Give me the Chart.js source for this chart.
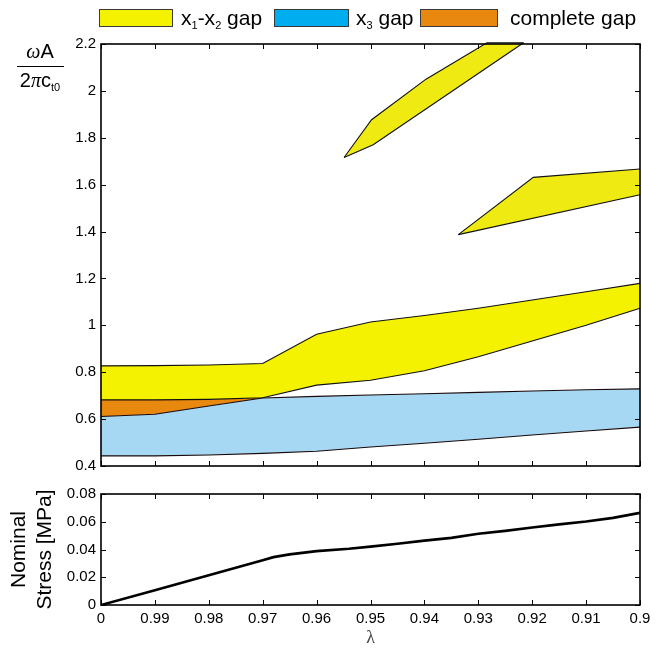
<!DOCTYPE html>
<html><head><meta charset="utf-8">
<script src="https://cdn.jsdelivr.net/npm/chart.js@4.4.1/dist/chart.umd.min.js"></script>
<style>
html,body{margin:0;padding:0;background:#fff;}
body{width:664px;height:651px;position:relative;overflow:hidden;font-family:'Liberation Sans',Arial,sans-serif;color:#000;}
#topWrap{position:absolute;left:0;top:0;width:664px;height:480px;}
#botWrap{position:absolute;left:0;top:480px;width:664px;height:171px;}
.box{position:absolute;top:9px;height:16px;border:1px solid #3a3a3a;}
.lt{position:absolute;top:7px;font-size:21px;line-height:21px;white-space:nowrap;}
.lt sub,.fr sub{font-size:11px;vertical-align:-4px;line-height:0;}
.fr{position:absolute;left:12px;width:56px;text-align:center;font-size:20px;line-height:22px;white-space:nowrap;}
</style></head>
<body>
<div id="topWrap"><canvas id="topChart"></canvas></div>
<div id="botWrap"><canvas id="botChart"></canvas></div>

<div class="box" style="left:99px;width:72px;background:#F5F200;"></div>
<div class="lt" style="left:181px;">x<sub>1</sub>-x<sub>2</sub> gap</div>
<div class="box" style="left:274px;width:73px;background:#00AEEF;"></div>
<div class="lt" style="left:356px;">x<sub>3</sub> gap</div>
<div class="box" style="left:420px;width:76px;background:#E8880F;"></div>
<div class="lt" style="left:510px;">complete gap</div>

<div class="fr" style="top:40px;"><span style="font-family:'Liberation Serif',serif;font-style:italic;">ω</span>A</div>
<div style="position:absolute;left:17px;top:66px;width:47px;border-top:1.3px solid #000;"></div>
<div class="fr" style="top:69px;">2<span style="font-family:'Liberation Serif',serif;font-style:italic;">π</span>c<sub>t0</sub></div>

<script>
// ---- data ----
const lambdaGrid   = [1.00, 0.99, 0.98, 0.97, 0.96, 0.95, 0.94, 0.93, 0.92, 0.91, 0.90];
const x12UpperMain = [0.827, 0.828, 0.831, 0.837, 0.962, 1.014, 1.042, 1.073, 1.108, 1.143, 1.179];
const x12LowerMain = [0.682, 0.682, 0.684, 0.691, 0.745, 0.766, 0.806, 0.866, 0.933, 1.000, 1.073];
const x3Upper      = [0.611, 0.621, 0.656, 0.690, 0.697, 0.703, 0.708, 0.714, 0.720, 0.725, 0.729];
const x3Lower      = [0.443, 0.443, 0.447, 0.454, 0.463, 0.481, 0.497, 0.514, 0.532, 0.549, 0.566];
const completeLambda = [1.00, 0.99, 0.98, 0.97];
const completeTop    = [0.682, 0.682, 0.684, 0.691];

const midUpperLambda = [0.9337, 0.9198, 0.90];
const midUpper       = [1.387, 1.631, 1.667];
const midLowerLambda = [0.9337, 0.90];
const midLower       = [1.387, 1.557];

const hiUpperLambda = [0.9549, 0.9498, 0.9397, 0.9284, 0.9216];
const hiUpper       = [1.716, 1.877, 2.050, 2.205, 2.205];
const hiLowerLambda = [0.9549, 0.9495, 0.9216];
const hiLower       = [1.716, 1.770, 2.205];

const stressLambda = [1.00, 0.99, 0.98, 0.97, 0.968, 0.965, 0.96, 0.954, 0.95, 0.945, 0.94, 0.935, 0.93, 0.925, 0.92, 0.915, 0.91, 0.905, 0.90];
const stressValues = [0, 0.0107, 0.0214, 0.0322, 0.0345, 0.0365, 0.0388, 0.0405, 0.0421, 0.0442, 0.0464, 0.0484, 0.0513, 0.0534, 0.0558, 0.0581, 0.0602, 0.0628, 0.0664];

const xTickValues = [1.00, 0.99, 0.98, 0.97, 0.96, 0.95, 0.94, 0.93, 0.92, 0.91, 0.90];
const xTickLabels = ['0', '0.99', '0.98', '0.97', '0.96', '0.95', '0.94', '0.93', '0.92', '0.91', '0.9'];
const yTopTickValues = [0.4, 0.6, 0.8, 1.0, 1.2, 1.4, 1.6, 1.8, 2.0, 2.2];
const yTopTickLabels = ['0.4', '0.6', '0.8', '1', '1.2', '1.4', '1.6', '1.8', '2', '2.2'];
const yBotTickValues = [0, 0.02, 0.04, 0.06, 0.08];
const yBotTickLabels = ['0', '0.02', '0.04', '0.06', '0.08'];

// ---- helpers ----
const pts = (xs, ys) => xs.map((x, i) => ({x: x, y: ys[i]}));
const FONT = "'Liberation Sans', Arial, sans-serif";
const setTicks = (vals) => (scale) => { scale.ticks = vals.map(v => ({value: v})); };
const labelFrom = (vals, labels) => (value) => {
  const i = vals.findIndex(v => Math.abs(v - value) < 1e-9);
  return i >= 0 ? labels[i] : '';
};

const boxTicks = {
  id: 'boxTicks',
  afterDraw(chart) {
    const {ctx, chartArea: a, scales: {x, y}} = chart;
    const L = 5;
    ctx.save();
    ctx.strokeStyle = '#000';
    ctx.lineWidth = 1;
    ctx.beginPath();
    x.ticks.forEach(t => {
      const p = Math.round(x.getPixelForValue(t.value)) + 0.5;
      ctx.moveTo(p, a.bottom); ctx.lineTo(p, a.bottom - L);
      ctx.moveTo(p, a.top); ctx.lineTo(p, a.top + L);
    });
    y.ticks.forEach(t => {
      const p = Math.round(y.getPixelForValue(t.value)) + 0.5;
      ctx.moveTo(a.left, p); ctx.lineTo(a.left + L, p);
      ctx.moveTo(a.right, p); ctx.lineTo(a.right - L, p);
    });
    ctx.stroke();
    ctx.lineWidth = 1.6;
    ctx.strokeRect(a.left, a.top, a.right - a.left, a.bottom - a.top);
    ctx.restore();
  }
};

const edge = (data, color, fill, bg) => ({
  data: data, borderColor: color, borderWidth: 1.1, pointRadius: 0, tension: 0,
  fill: fill, backgroundColor: bg || 'transparent', clip: 3
});

const YEL = '#F5F200', YEL2 = '#EFEB12', BLU = '#A6D8F4', ORA = '#E8880F';

new Chart(document.getElementById('topChart'), {
  type: 'line',
  data: {
    datasets: [
      edge(pts(lambdaGrid, x12UpperMain), '#111', '+1', YEL),
      edge(pts(lambdaGrid, x12LowerMain), '#111', false),
      edge(pts(lambdaGrid, x3Upper), '#1a0808', '+1', BLU),
      edge(pts(lambdaGrid, x3Lower), '#1a0808', false),
      edge(pts(midUpperLambda, midUpper), '#111', '+1', YEL2),
      edge(pts(midLowerLambda, midLower), '#111', false),
      edge(pts(hiUpperLambda, hiUpper), '#111', '+1', YEL2),
      edge(pts(hiLowerLambda, hiLower), '#111', false),
      {data: pts(completeLambda, completeTop), borderWidth: 0, borderColor: 'transparent',
       pointRadius: 0, tension: 0, fill: 2, backgroundColor: ORA}
    ]
  },
  options: {
    responsive: true, maintainAspectRatio: false, animation: false, devicePixelRatio: 1,
    layout: {padding: {top: 44, right: 24, bottom: 13, left: 0}},
    plugins: {legend: {display: false}, tooltip: {enabled: false},
              filler: {propagate: false, drawTime: 'beforeDatasetsDraw'}},
    scales: {
      x: {type: 'linear', min: 0.9, max: 1.0, reverse: true,
          afterBuildTicks: setTicks(xTickValues),
          ticks: {display: false},
          grid: {display: false, drawTicks: false}, border: {display: false},
          afterFit: s => { s.height = 0; }},
      y: {type: 'linear', min: 0.4, max: 2.2,
          afterBuildTicks: setTicks(yTopTickValues),
          ticks: {callback: labelFrom(yTopTickValues, yTopTickLabels), color: '#000',
                  font: {family: FONT, size: 15}, padding: 5},
          grid: {display: false, drawTicks: false}, border: {display: false},
          afterFit: s => { s.width = 101; }}
    }
  },
  plugins: [boxTicks]
});

new Chart(document.getElementById('botChart'), {
  type: 'line',
  data: {
    datasets: [{data: pts(stressLambda, stressValues), borderColor: '#000', borderWidth: 2.6,
                pointRadius: 0, tension: 0, fill: false}]
  },
  options: {
    responsive: true, maintainAspectRatio: false, animation: false, devicePixelRatio: 1,
    layout: {padding: {top: 12, right: 24, bottom: 0, left: 0}},
    plugins: {legend: {display: false}, tooltip: {enabled: false}},
    scales: {
      x: {type: 'linear', min: 0.9, max: 1.0, reverse: true,
          afterBuildTicks: setTicks(xTickValues),
          ticks: {callback: labelFrom(xTickValues, xTickLabels), color: '#000',
                  font: {family: FONT, size: 15}, padding: 5, maxRotation: 0, autoSkip: false},
          title: {display: true, text: 'λ', color: '#444',
                  font: {family: "'Liberation Serif', serif", size: 18}, padding: {top: 0, bottom: 2}},
          grid: {display: false, drawTicks: false}, border: {display: false},
          afterFit: s => { s.height = 46; }},
      y: {type: 'linear', min: 0, max: 0.08,
          afterBuildTicks: setTicks(yBotTickValues),
          ticks: {callback: labelFrom(yBotTickValues, yBotTickLabels), color: '#000',
                  font: {family: FONT, size: 15}, padding: 5},
          title: {display: true, text: ['Nominal', 'Stress [MPa]'], color: '#000',
                  font: {family: FONT, size: 21}, padding: {top: 7, bottom: 0}},
          grid: {display: false, drawTicks: false}, border: {display: false},
          afterFit: s => { s.width = 101; }}
    }
  },
  plugins: [boxTicks]
});
</script>
</body></html>
